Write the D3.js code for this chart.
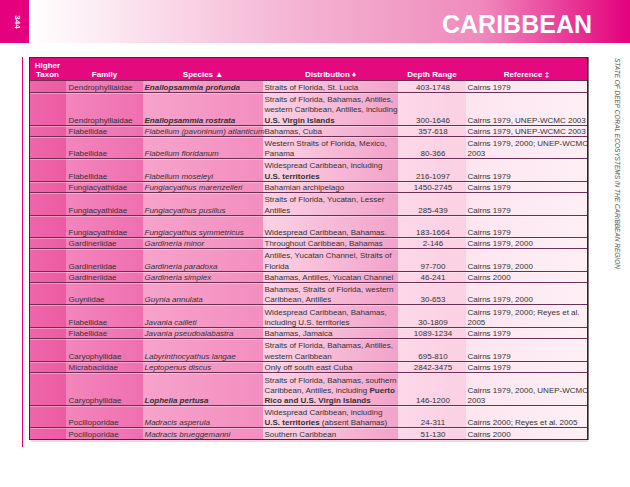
<!DOCTYPE html>
<html>
<head>
<meta charset="utf-8">
<script src="https://cdn.jsdelivr.net/npm/d3@7"></script>
<style>
  body { margin: 0; background: #fff; }
  svg { display: block; }
  text { font-family: "Liberation Sans", Arial, sans-serif; }
</style>
</head>
<body>
<svg id="page" width="630" height="487"></svg>
<script>
// Table content, one entry per row. "**" toggles bold, "\n" breaks a line.
var headers = ['Higher\nTaxon', 'Family', 'Species \u25B2', 'Distribution \u2666', 'Depth Range', 'Reference \u2021']

var families = [
  'Dendrophylliaidae', 'Dendrophylliaidae', 'Flabellidae', 'Flabellidae', 'Flabellidae',
  'Fungiacyathidae', 'Fungiacyathidae', 'Fungiacyathidae', 'Gardineriidae', 'Gardineriidae',
  'Gardineriidae', 'Guyniidae', 'Flabellidae', 'Flabellidae', 'Caryophyllidae',
  'Micrabaciidae', 'Caryophyllidae', 'Pocilloporidae', 'Pocilloporidae'
]

var species = [
  '**Enallopsammia profunda**', '**Enallopsammia rostrata**', 'Flabellum (pavoninum) atlanticum',
  'Flabellum floridanum', 'Flabellum moseleyi', 'Fungiacyathus marenzelleri', 'Fungiacyathus pusillus',
  'Fungiacyathus symmetricus', 'Gardineria minor', 'Gardineria paradoxa', 'Gardineria simplex',
  'Guynia annulata', 'Javania cailleti', 'Javania pseudoalabastra', 'Labyrinthocyathus langae',
  'Leptopenus discus', '**Lophelia pertusa**', 'Madracis asperula', 'Madracis brueggemanni'
]

var distributions = [
  'Straits of Florida, St. Lucia',
  'Straits of Florida, Bahamas, Antilles,\nwestern Caribbean, Antilles, including\n**U.S. Virgin Islands**',
  'Bahamas, Cuba',
  'Western Straits of Florida, Mexico,\nPanama',
  'Widespread Caribbean, including\n**U.S. territories**',
  'Bahamian archipelago',
  'Straits of Florida, Yucatan, Lesser\nAntilles',
  '\nWidespread Caribbean, Bahamas.',
  'Throughout Caribbean, Bahamas',
  'Antilles, Yucatan Channel, Straits of\nFlorida',
  'Bahamas, Antilles, Yucatan Channel',
  'Bahamas, Straits of Florida, western\nCaribbean, Antilles',
  'Widespread Caribbean, Bahamas,\nincluding U.S. territories',
  'Bahamas, Jamaica',
  'Straits of Florida, Bahamas, Antilles,\nwestern Caribbean',
  'Only off south east Cuba',
  'Straits of Florida, Bahamas, southern\nCaribbean, Antilles, including **Puerto**\n**Rico and U.S. Virgin Islands**',
  'Widespread Caribbean, including\n**U.S. territories** (absent Bahamas)',
  'Southern Caribbean'
]

var depths = [
  '403-1748', '300-1646', '357-618', '80-366', '216-1097', '1450-2745', '285-439', '183-1664',
  '2-146', '97-700', '46-241', '30-653', '30-1809', '1089-1234', '695-810', '2842-3475',
  '146-1200', '24-311', '51-130'
]

var references = [
  'Cairns 1979', 'Cairns 1979, UNEP-WCMC 2003', 'Cairns 1979, UNEP-WCMC 2003',
  'Cairns 1979, 2000; UNEP-WCMC\n2003', 'Cairns 1979', 'Cairns 1979', 'Cairns 1979', 'Cairns 1979',
  'Cairns 1979, 2000', 'Cairns 1979, 2000', 'Cairns 2000', 'Cairns 1979, 2000',
  'Cairns 1979, 2000; Reyes et al.\n2005', 'Cairns 1979', 'Cairns 1979', 'Cairns 1979',
  'Cairns 1979, 2000, UNEP-WCMC\n2003', 'Cairns 2000; Reyes et al. 2005', 'Cairns 2000'
]

// layout
var colEdges = [29, 66, 143, 263, 398, 466, 587]
  , colFill = [
      ['#ef66aa', '#ec5ba3'], ['#f385bc', '#ef6fb0'], ['#f6a3cb', '#f38ec0'],
      ['#fbd3e5', '#f2a2c9'], ['#fcd8e8', '#fbd0e3'], ['#fde5f0', '#feeff5']
    ]
  , tableTop = 57
  , headBottom = 80
  , tableBottom = 439
  , rowPad = 0.08
  , fontSize = 8

var svg = d3.select('#page')
  , defs = svg.append('defs')

var rows = families.map(function(f, i) {
  return [' ', f, species[i], distributions[i], depths[i], references[i]]
})

var rowUnits = rows.map(function(r) {
  return d3.max(r, function(t) { return t.split('\n').length }) + rowPad
})
var cum = [0]
rowUnits.forEach(function(u, i) { cum.push(cum[i] + u) })

var y = d3.scaleLinear().domain([0, cum[cum.length - 1]]).range([headBottom, tableBottom])
  , lineH = (y(1) - y(0)) * 0.95

// page banner
var band = defs.append('linearGradient').attr('id', 'band')
band.selectAll('stop').data([[0, '#ffffff'], [0.45, '#f4b3d1'], [0.75, '#ef8bbd'], [1, '#e4007c']])
  .enter().append('stop')
  .attr('offset', function(d) { return d[0] })
  .attr('stop-color', function(d) { return d[1] })

svg.append('rect').attr('x', 29).attr('y', 0).attr('width', 601).attr('height', 43).attr('fill', 'url(#band)')
svg.append('rect').attr('x', 0).attr('y', 0).attr('width', 29).attr('height', 43).attr('fill', '#e5007e')
svg.append('text').attr('transform', 'translate(14.5,22) rotate(90)')
  .attr('text-anchor', 'middle').attr('fill', '#fff').attr('font-weight', 'bold')
  .attr('font-size', 8).text('344')
svg.append('text').attr('x', 592).attr('y', 33).attr('text-anchor', 'end')
  .attr('fill', '#fff').attr('font-weight', 'bold').attr('font-size', 25).text('CARIBBEAN')
svg.append('text').attr('transform', 'translate(614.5,58) rotate(90)')
  .attr('fill', '#555').attr('font-style', 'italic').attr('font-size', 6.5)
  .text('STATE OF DEEP CORAL ECOSYSTEMS IN THE CARIBBEAN REGION')
svg.append('line').attr('x1', 22.5).attr('x2', 22.5).attr('y1', 57).attr('y2', 447)
  .attr('stroke', '#e5007e').attr('stroke-width', 1)

// column backgrounds
colFill.forEach(function(c, i) {
  var g = defs.append('linearGradient').attr('id', 'col' + i)
  g.append('stop').attr('offset', 0).attr('stop-color', c[0])
  g.append('stop').attr('offset', 1).attr('stop-color', c[1])
})
svg.append('g').selectAll('rect').data(colFill).enter().append('rect')
  .attr('x', function(d, i) { return colEdges[i] })
  .attr('y', headBottom)
  .attr('width', function(d, i) { return colEdges[i + 1] - colEdges[i] })
  .attr('height', tableBottom - headBottom)
  .attr('fill', function(d, i) { return 'url(#col' + i + ')' })

// header
svg.append('rect').attr('x', colEdges[0]).attr('y', tableTop)
  .attr('width', colEdges[6] - colEdges[0]).attr('height', headBottom - tableTop).attr('fill', '#e5097f')

function colX(i) {
  if (i === 4) return (colEdges[4] + colEdges[5]) / 2 + 1
  return colEdges[i] + (i === 1 ? 2.5 : 1.5)
}

// write a cell, lines stacked from the bottom of the box
function writeCell(g, str, x, bottom, anchor, italic) {
  var lines = str.split('\n')
  lines.forEach(function(line, k) {
    var t = g.append('text').attr('x', x)
      .attr('y', bottom - (lines.length - 1 - k) * lineH)
      .attr('text-anchor', anchor).attr('font-size', fontSize)
    if (italic) t.attr('font-style', 'italic')
    line.split('**').forEach(function(seg, j) {
      if (!seg) return
      t.append('tspan').attr('font-weight', j % 2 ? 'bold' : null).text(seg)
    })
  })
  return g
}

var head = svg.append('g').attr('fill', '#fff').attr('font-weight', 'bold')
headers.forEach(function(h, i) {
  var cx = (colEdges[i] + colEdges[i + 1]) / 2
  var lines = h.split('\n')
  lines.forEach(function(line, k) {
    head.append('text').attr('x', cx).attr('y', 76.5 - (lines.length - 1 - k) * 9)
      .attr('text-anchor', 'middle').attr('font-size', fontSize).text(line)
  })
})

// body text
var body = svg.append('g').attr('fill', '#333')
rows.forEach(function(r, ri) {
  var bottom = y(cum[ri + 1]) - 2
  r.forEach(function(cell, ci) {
    if (ci === 0) return
    writeCell(body, cell, colX(ci), bottom, ci === 4 ? 'middle' : 'start', ci === 2)
  })
})

// row rules
var rules = cum.slice(0, cum.length - 1)
svg.append('g').selectAll('line.dark').data(rules).enter().append('line')
  .attr('x1', colEdges[0]).attr('x2', colEdges[6])
  .attr('y1', function(d) { return Math.round(y(d)) + 0.5 })
  .attr('y2', function(d) { return Math.round(y(d)) + 0.5 })
  .attr('stroke', '#6a2f52').attr('stroke-width', 1)
svg.append('g').selectAll('line.light').data(rules.slice(1)).enter().append('line')
  .attr('x1', colEdges[0]).attr('x2', colEdges[6])
  .attr('y1', function(d) { return Math.round(y(d)) + 1.5 })
  .attr('y2', function(d) { return Math.round(y(d)) + 1.5 })
  .attr('stroke', '#fff').attr('stroke-opacity', 0.35).attr('stroke-width', 1)

// outer frame with a slight shadow on the right and bottom
svg.append('rect').attr('x', colEdges[0] + 0.5).attr('y', tableTop + 0.5)
  .attr('width', colEdges[6] - colEdges[0]).attr('height', tableBottom - tableTop)
  .attr('fill', 'none').attr('stroke', '#333').attr('stroke-width', 1)
svg.append('line').attr('x1', colEdges[6] + 1).attr('x2', colEdges[6] + 1)
  .attr('y1', tableTop).attr('y2', tableBottom + 1).attr('stroke', '#222').attr('stroke-width', 1.2)
svg.append('line').attr('x1', colEdges[0] + 2).attr('x2', colEdges[6] + 1)
  .attr('y1', tableBottom + 2).attr('y2', tableBottom + 2).attr('stroke', '#f3c6dc').attr('stroke-width', 1.5)
</script>
</body>
</html>
